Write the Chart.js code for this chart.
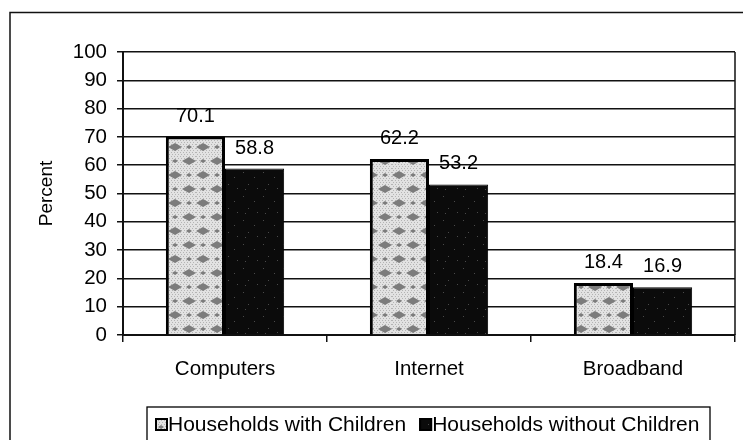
<!DOCTYPE html>
<html>
<head>
<meta charset="utf-8">
<script src="https://cdn.jsdelivr.net/npm/chart.js@4/dist/chart.umd.min.js"></script>
<style>
  html, body { margin: 0; padding: 0; background: #fff; }
  #wrap { width: 743px; height: 440px; }
</style>
</head>
<body>
<div id="wrap"><canvas id="myChart" width="743" height="440"></canvas></div>
<script>
const categories = ["Computers", "Internet", "Broadband"];
const withChildren = [70.1, 62.2, 18.4];
const withoutChildren = [58.8, 53.2, 16.9];
const seriesNames = ["Households with Children", "Households without Children"];
const yTicks = [0, 10, 20, 30, 40, 50, 60, 70, 80, 90, 100];

const FONT = "'Liberation Sans', Arial, sans-serif";

// patterned fills like the scanned original
function lightPattern() {
  const c = document.createElement("canvas");
  c.width = 28; c.height = 28;
  const g = c.getContext("2d");
  g.fillStyle = "#e2e2e2";
  g.fillRect(0, 0, 28, 28);
  g.fillStyle = "#b4b4b4";
  for (let y = 0; y < 28; y += 2) {
    for (let x = (y % 4) / 2; x < 28; x += 3) {
      g.fillRect(x, y, 1, 1);
    }
  }
  g.fillStyle = "#7c7c7c";
  // diamond blobs with horizontal streaks
  [[7, 7, 7, 4], [21, 21, 7, 4], [21, 7, 3, 2], [7, 21, 3, 2]].forEach(function (b) {
    g.beginPath();
    g.moveTo(b[0] - b[2], b[1]);
    g.lineTo(b[0], b[1] - b[3]);
    g.lineTo(b[0] + b[2], b[1]);
    g.lineTo(b[0], b[1] + b[3]);
    g.closePath();
    g.fill();
  });
  return g.createPattern(c, "repeat");
}

function darkPattern() {
  const c = document.createElement("canvas");
  c.width = 20; c.height = 24;
  const g = c.getContext("2d");
  g.fillStyle = "#0b0b0b";
  g.fillRect(0, 0, 20, 24);
  g.fillStyle = "#4a4a4a";
  [[3, 4], [14, 9], [8, 16], [17, 20], [5, 21]].forEach(function (p) {
    g.fillRect(p[0], p[1], 1, 1);
  });
  return g.createPattern(c, "repeat");
}

const fillWith = lightPattern();
const fillWithout = darkPattern();

const frame = {
  id: "frame",
  beforeDraw(chart) {
    const ctx = chart.ctx;
    ctx.save();
    ctx.fillStyle = "#fff";
    ctx.fillRect(0, 0, chart.width, chart.height);
    ctx.strokeStyle = "#111";
    ctx.lineWidth = 1.5;
    ctx.beginPath();
    ctx.moveTo(10, 440);
    ctx.lineTo(10, 12.5);
    ctx.lineTo(743, 12.5);
    ctx.stroke();
    ctx.restore();
  },
  afterDraw(chart) {
    const ctx = chart.ctx;
    const a = chart.chartArea;
    ctx.save();
    ctx.strokeStyle = "#111";
    ctx.lineWidth = 1.5;
    ctx.beginPath();
    ctx.moveTo(a.right, a.top);
    ctx.lineTo(a.right, a.bottom);
    ctx.stroke();

    // legend box
    ctx.font = "21px " + FONT;
    ctx.textBaseline = "middle";
    ctx.lineWidth = 1.3;
    ctx.strokeStyle = "#000";
    ctx.strokeRect(147, 407, 563, 36);
    let x = 155;
    const cy = 425;
    chart.data.datasets.forEach(function (ds) {
      ctx.fillStyle = ds.backgroundColor;
      ctx.fillRect(x, cy - 7, 13, 13);
      ctx.strokeStyle = "#000";
      ctx.lineWidth = 2;
      ctx.strokeRect(x + 1, cy - 6, 11, 11);
      ctx.fillStyle = "#000";
      ctx.textAlign = "left";
      ctx.fillText(ds.label, x + 13, cy);
      x += 13 + ctx.measureText(ds.label).width + 13;
    });
    ctx.restore();
  },
  afterDatasetsDraw(chart) {
    const ctx = chart.ctx;
    ctx.save();
    ctx.font = "20px " + FONT;
    ctx.fillStyle = "#000";
    ctx.textAlign = "center";
    ctx.textBaseline = "alphabetic";
    chart.data.datasets.forEach(function (ds, i) {
      chart.getDatasetMeta(i).data.forEach(function (bar, j) {
        ctx.fillText(ds.data[j].toFixed(1), bar.x, bar.y - 15);
      });
    });
    ctx.restore();
  }
};

new Chart(document.getElementById("myChart"), {
  type: "bar",
  data: {
    labels: categories,
    datasets: [
      {
        label: seriesNames[0],
        data: withChildren,
        backgroundColor: fillWith,
        borderColor: "#000",
        borderWidth: 3,
        categoryPercentage: 0.58,
        barPercentage: 1.0
      },
      {
        label: seriesNames[1],
        data: withoutChildren,
        backgroundColor: fillWithout,
        borderColor: "#000",
        borderWidth: 1,
        categoryPercentage: 0.58,
        barPercentage: 1.0
      }
    ]
  },
  plugins: [frame],
  options: {
    responsive: false,
    animation: false,
    layout: { padding: { top: 52, right: 8, bottom: 20, left: 0 } },
    plugins: {
      legend: { display: false },
      tooltip: { enabled: false }
    },
    scales: {
      x: {
        grid: { drawOnChartArea: false, color: "#111", tickLength: 7, lineWidth: 1.5 },
        border: { color: "#111", width: 2 },
        ticks: { color: "#000", font: { family: FONT, size: 20.5 }, padding: 15 },
        afterFit(scale) { scale.height = 85; }
      },
      y: {
        min: 0,
        max: 100,
        afterBuildTicks(scale) { scale.ticks = yTicks.map(v => ({ value: v })); },
        grid: { color: "#111", tickLength: 6, lineWidth: 1.5 },
        border: { color: "#111", width: 2 },
        ticks: { color: "#000", font: { family: FONT, size: 20.5 }, padding: 10 },
        title: {
          display: true,
          text: "Percent",
          color: "#000",
          font: { family: FONT, size: 19 },
          padding: { top: 35, bottom: 0 }
        },
        afterFit(scale) { scale.width = 123; }
      }
    }
  }
});
</script>
</body>
</html>
